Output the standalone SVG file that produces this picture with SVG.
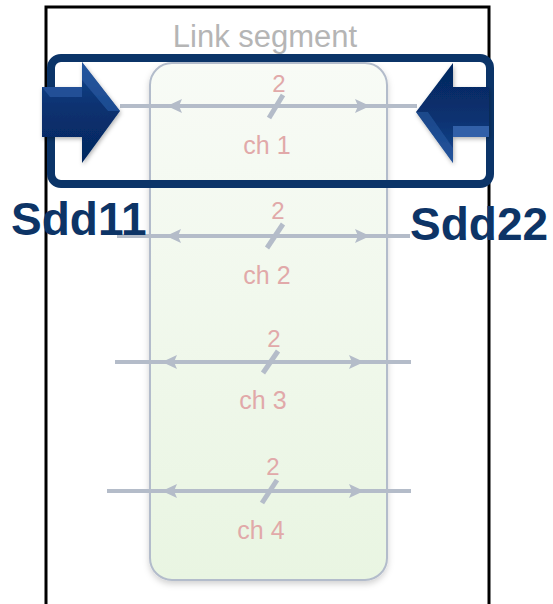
<svg xmlns="http://www.w3.org/2000/svg" width="553" height="604" viewBox="0 0 553 604">
  <defs>
    <linearGradient id="segFill" x1="0" y1="0" x2="0" y2="1">
      <stop offset="0" stop-color="#f8fbf6"/>
      <stop offset="1" stop-color="#e9f5e2"/>
    </linearGradient>
    <linearGradient id="portFillL" x1="0" y1="0" x2="0" y2="1">
      <stop offset="0" stop-color="#1a4890"/>
      <stop offset="0.45" stop-color="#083170"/>
      <stop offset="1" stop-color="#05275e"/>
    </linearGradient>
    <linearGradient id="portFillR" x1="0" y1="0" x2="0" y2="1">
      <stop offset="0" stop-color="#05275e"/>
      <stop offset="0.55" stop-color="#083170"/>
      <stop offset="1" stop-color="#1a4890"/>
    </linearGradient>
    <filter id="soft" x="-10%" y="-10%" width="120%" height="120%">
      <feDropShadow dx="0" dy="3" stdDeviation="3" flood-color="#000" flood-opacity="0.18"/>
    </filter>
    <filter id="portShadow" x="-20%" y="-20%" width="140%" height="140%">
      <feDropShadow dx="1" dy="2" stdDeviation="2" flood-color="#000" flood-opacity="0.3"/>
    </filter>
  </defs>
  <style>
    .frame { fill: none; stroke: #000; stroke-width: 3; }
    .seg { fill: url(#segFill); stroke: #b3bccb; stroke-width: 2; }
    .group { fill: none; stroke: #0b3468; stroke-width: 8; }
    .wire { stroke: #b4bcc9; stroke-width: 4; fill: none; }
    .slash { stroke: #b4bcc9; stroke-width: 5; }
    .tip { fill: #b4bcc9; }
    .lbl { font-family: "Liberation Sans", Arial, sans-serif; fill: #e1a9a9; text-anchor: middle; }
    .num { font-size: 24px; }
    .ch { font-size: 25px; }
    .title { font-family: "Liberation Sans", Arial, sans-serif; fill: #b5b5b5; font-size: 31px; text-anchor: middle; }
    .port { font-family: "Liberation Sans", Arial, sans-serif; fill: #0d3466; font-weight: bold; font-size: 46px; }
  </style>

  <!-- outer enclosure -->
  <rect class="frame" x="46" y="7" width="443" height="610"/>

  <!-- link segment box -->
  <g id="link-segment">
    <rect class="seg" x="150" y="63" width="237" height="517" rx="22" filter="url(#soft)"/>
    <text class="title" x="265" y="47">Link segment</text>
  </g>

  <!-- channel wires -->
  <g id="connectors">
    <line class="wire" x1="120" y1="106" x2="417" y2="106"/>
    <line class="wire" x1="117" y1="236" x2="410" y2="236"/>
    <line class="wire" x1="115" y1="362" x2="411" y2="362"/>
    <line class="wire" x1="107" y1="491" x2="411" y2="491"/>

    <!-- inline arrowheads -->
    <polygon class="tip" points="167,106 182,99 179,106 182,113"/>
    <polygon class="tip" points="370,106 355,99 358,106 355,113"/>
    <polygon class="tip" points="166,236 181,229 178,236 181,243"/>
    <polygon class="tip" points="370,236 355,229 358,236 355,243"/>
    <polygon class="tip" points="162,362 177,355 174,362 177,369"/>
    <polygon class="tip" points="364,362 349,355 352,362 349,369"/>
    <polygon class="tip" points="162,491 177,484 174,491 177,498"/>
    <polygon class="tip" points="364,491 349,484 352,491 349,498"/>

    <!-- bus width slashes -->
    <line class="slash" x1="269" y1="118" x2="283" y2="95"/>
    <line class="slash" x1="267" y1="248" x2="283" y2="224"/>
    <line class="slash" x1="263" y1="373" x2="278" y2="351"/>
    <line class="slash" x1="262" y1="503" x2="277" y2="480"/>
  </g>

  <g id="ch1">
    <text class="lbl num" x="279" y="92">2</text>
    <text class="lbl ch" x="267" y="154">ch 1</text>
  </g>
  <g id="ch2">
    <text class="lbl num" x="278" y="219">2</text>
    <text class="lbl ch" x="267" y="284">ch 2</text>
  </g>
  <g id="ch3">
    <text class="lbl num" x="274" y="347">2</text>
    <text class="lbl ch" x="263" y="409">ch 3</text>
  </g>
  <g id="ch4">
    <text class="lbl num" x="273" y="475">2</text>
    <text class="lbl ch" x="261" y="539">ch 4</text>
  </g>

  <!-- port 1 / port 2 measurement group -->
  <g id="port-group">
    <rect class="group" x="51" y="58" width="439" height="126" rx="10"/>
  </g>

  <g id="port1" filter="url(#portShadow)">
    <polygon points="42,87 82,87 82,62 120,111 82,163 82,137 42,137" fill="url(#portFillL)"/>
    <polygon points="42,87 82,87 82,97 50,97" fill="#2a5aa3" opacity="0.7"/>
    <polygon points="82,62 120,111 108,111 82,80" fill="#2d5fa8" opacity="0.6"/>
  </g>
  <g id="port2" filter="url(#portShadow)">
    <polygon points="489,87 453,87 453,63 416,112 453,163 453,137 489,137" fill="url(#portFillR)"/>
    <polygon points="453,126 489,126 489,137 453,137" fill="#3a6cb4" opacity="0.8"/>
    <polygon points="416,112 453,163 453,148 428,112" fill="#2d5fa8" opacity="0.5"/>
  </g>

  <g id="labels">
    <text class="port" x="11" y="235">Sdd11</text>
    <text class="port" x="410" y="240">Sdd22</text>
  </g>
</svg>
